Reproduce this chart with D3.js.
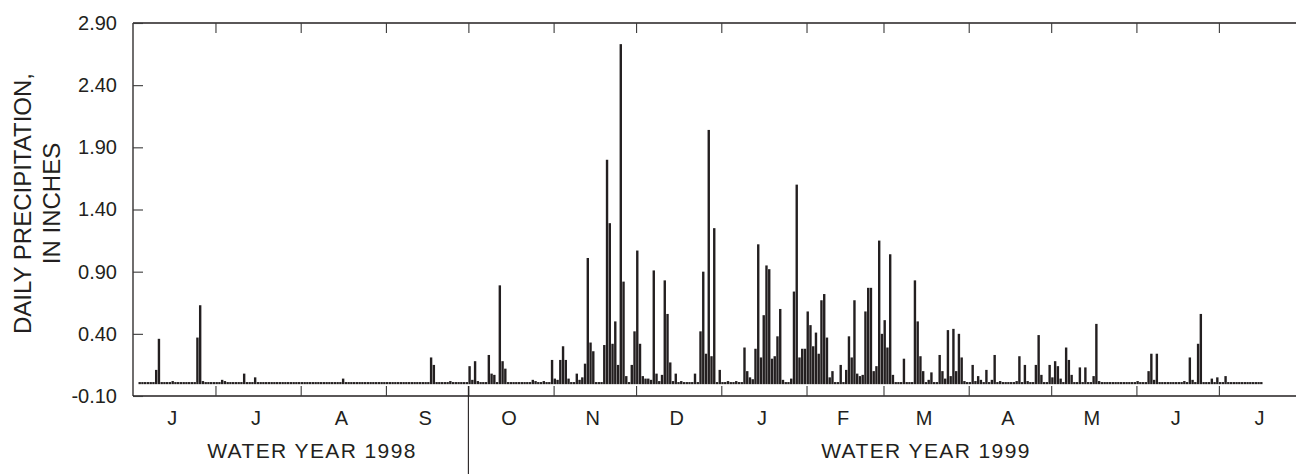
<!DOCTYPE html>
<html>
<head>
<meta charset="utf-8">
<script src="https://cdn.jsdelivr.net/npm/d3@7"></script>
<style>
  html, body { margin: 0; padding: 0; background: #fff; }
  svg { display: block; }
  text { font-family: "Liberation Sans", Arial, Helvetica, sans-serif; fill: #231f20; }
</style>
</head>
<body>
<svg id="chart" width="1296" height="474"></svg>
<script>
// Daily precipitation, inches (null = no record)
const jun1998 = [null,null,0,0,0,0,0,0,0.11,0.36,0,0,0,0,0.02,0,0,0,0,0,0,0,0,0.37,0.63,0.02,0,0,0,0];
const jul1998 = [0,0,0.03,0.02,0,0,0,0,0,0,0.08,0,0,0,0.05,0,0,0,0,0,0,0,0,0,0,0,0,0,0,0,0];
const aug1998 = [0,0,0,0,0,0,0,0,0,0,0,0,0,0,0,0.04,0,0,0,0,0,0,0,0,0,0,0,0,0,0,0];
const sep1998 = [0,0,0,0,0,0,0,0,0,0,0,0,0,0,0,0,0.21,0.15,0,0,0,0,0,0.02,0,0,0,0,0,0];
const oct1998 = [0.14,0.03,0.18,0.02,0,0,0,0.23,0.08,0.07,0,0.79,0.18,0.12,0,0,0,0,0,0,0,0,0,0.03,0.02,0,0,0.02,0,0,0.19];
const nov1998 = [0.04,0.03,0.19,0.30,0.19,0.04,0.01,0.01,0.08,0.03,0.05,0.16,1.01,0.33,0.26,0,0,0,0.31,1.80,1.29,0.32,0.50,0.15,2.73,0.82,0.06,0.01,0.15,0.42];
const dec1998 = [1.07,0.32,0.06,0.04,0.04,0.03,0.91,0.08,0.02,0.07,0.83,0.56,0.17,0.02,0.08,0.01,0.02,0,0,0,0,0.08,0,0.42,0.90,0.24,2.04,0.22,1.25,0,0.11];
const jan1999 = [0.01,0,0.02,0,0,0.02,0,0,0.29,0.10,0.05,0.035,0.28,1.12,0.21,0.55,0.95,0.92,0.20,0.22,0.38,0.60,0.03,0.01,0,0.04,0.74,1.60,0.21,0.28,0.28];
const feb1999 = [0.58,0.47,0.30,0.41,0.24,0.67,0.72,0.37,0.05,0.10,0.01,0,0.15,0,0.11,0.38,0.21,0.67,0.08,0.06,0.07,0.58,0.77,0.77,0.10,0.14,1.15,0.40];
const mar1999 = [0.51,0.29,1.04,0.07,0,0,0,0.20,0,0,0,0.83,0.50,0.22,0.10,0,0.03,0.09,0,0,0.23,0.10,0.04,0.43,0.06,0.44,0.10,0.40,0.21,0.02,0];
const apr1999 = [0,0.15,0.02,0.06,0.03,0,0.11,0,0.03,0.23,0,0.02,0,0,0,0,0,0.02,0.22,0,0.15,0.02,0,0,0.15,0.39,0.07,0,0,0.15];
const may1999 = [0.05,0.18,0.14,0.04,0,0.29,0.19,0.07,0,0,0.13,0,0.13,0,0,0.06,0.48,0.02,0,0,0,0,0,0,0,0,0,0,0,0,0];
const jun1999 = [0.02,0,0,0,0.10,0.24,0.03,0.24,0,0,0,0,0,0,0,0,0,0.02,0,0.21,0.03,0,0.32,0.56,0,0,0,0.04,0,0.05];
const jul1999 = [0,0,0.06,0,0,0,0,0,0,0,0,0,0,0,0,0];

const monthSeries = [
  [1998, 5, jun1998], [1998, 6, jul1998], [1998, 7, aug1998], [1998, 8, sep1998],
  [1998, 9, oct1998], [1998, 10, nov1998], [1998, 11, dec1998], [1999, 0, jan1999],
  [1999, 1, feb1999], [1999, 2, mar1999], [1999, 3, apr1999], [1999, 4, may1999],
  [1999, 5, jun1999], [1999, 6, jul1999]
];
const monthLabels = ["J","J","A","S","O","N","D","J","F","M","A","M","J","J"];
const yTicks = [-0.10, 0.40, 0.90, 1.40, 1.90, 2.40, 2.90];
const yTickLabels = ["-0.10", "0.40", "0.90", "1.40", "1.90", "2.40", "2.90"];
const waterYears = [
  {label: "WATER YEAR 1998", x: 312},
  {label: "WATER YEAR 1999", x: 926}
];

const ink = "#231f20";
const svg = d3.select("#chart");

const x = d3.scaleTime()
  .domain([new Date(1998, 5, 1), new Date(1999, 7, 1)])
  .range([133, 1304.1]);
const y = d3.scaleLinear().domain([-0.10, 2.90]).range([396, 23]);

const daily = [];
monthSeries.forEach(([yr, mo, arr]) => {
  arr.forEach((v, i) => {
    if (v !== null) daily.push({date: new Date(yr, mo, 1 + i), value: v});
  });
});

const step = x(new Date(1998, 5, 2)) - x(new Date(1998, 5, 1));
const y0 = y(0);

// bars
svg.append("g").selectAll("rect").data(daily).join("rect")
  .attr("x", d => x(d.date))
  .attr("width", step - 0.35)
  .attr("y", d => Math.min(y(d.value), y0 - 1.5))
  .attr("height", d => y0 + 0.6 - Math.min(y(d.value), y0 - 1.5))
  .attr("fill", ink);

// frame
const frame = svg.append("g").attr("stroke", ink).attr("stroke-width", 1.3).attr("fill", "none");
frame.append("line").attr("x1", 133).attr("x2", 1296).attr("y1", 23).attr("y2", 23);
frame.append("line").attr("x1", 133).attr("x2", 1296).attr("y1", 396).attr("y2", 396);
frame.append("line").attr("x1", 133).attr("x2", 133).attr("y1", 23).attr("y2", 396);

// month boundary ticks
const monthStarts = monthSeries.slice(1).map(([yr, mo]) => new Date(yr, mo, 1));
const styleAxis = g => {
  g.select(".domain").remove();
  g.selectAll(".tick line").attr("stroke", "#3a3a3a").attr("stroke-width", 1.1);
};
svg.append("g").attr("transform", "translate(0,396)")
  .call(d3.axisBottom(x).tickValues(monthStarts).tickSize(-10).tickFormat(""))
  .call(styleAxis);
svg.append("g").attr("transform", "translate(0,23)")
  .call(d3.axisTop(x).tickValues(monthStarts).tickSize(-10).tickFormat(""))
  .call(styleAxis);

// y axis
const yAxis = svg.append("g").attr("transform", "translate(133,0)")
  .call(d3.axisLeft(y).tickValues(yTicks).tickSize(-10).tickPadding(16)
    .tickFormat((d, i) => yTickLabels[i]))
  .call(styleAxis);
yAxis.selectAll(".tick text")
  .attr("font-size", 20)
  .attr("font-family", "'Liberation Sans', Arial, sans-serif")
  .attr("fill", ink);

// month labels
svg.append("g").selectAll("text").data(monthSeries).join("text")
  .attr("x", (d, i) => {
    const a = new Date(d[0], d[1], 1), b = new Date(d[0], d[1] + 1, 1);
    return (x(a) + x(b)) / 2 - 2;
  })
  .attr("y", 425)
  .attr("text-anchor", "middle")
  .attr("font-size", 20)
  .text((d, i) => monthLabels[i]);

// water year divider
svg.append("line")
  .attr("x1", x(new Date(1998, 9, 1))).attr("x2", x(new Date(1998, 9, 1)))
  .attr("y1", 386).attr("y2", 474)
  .attr("stroke", ink).attr("stroke-width", 1.1);

svg.append("g").selectAll("text").data(waterYears).join("text")
  .attr("x", d => d.x).attr("y", 458)
  .attr("text-anchor", "middle")
  .attr("font-size", 21)
  .attr("letter-spacing", 1.4)
  .text(d => d.label);

// y title
const yt = [ {t: "DAILY PRECIPITATION,", x: 31}, {t: "IN INCHES", x: 60} ];
svg.append("g").selectAll("text").data(yt).join("text")
  .attr("transform", d => `translate(${d.x},203.5) rotate(-90)`)
  .attr("text-anchor", "middle")
  .attr("font-size", 24)
  .text(d => d.t);
</script>
</body>
</html>
